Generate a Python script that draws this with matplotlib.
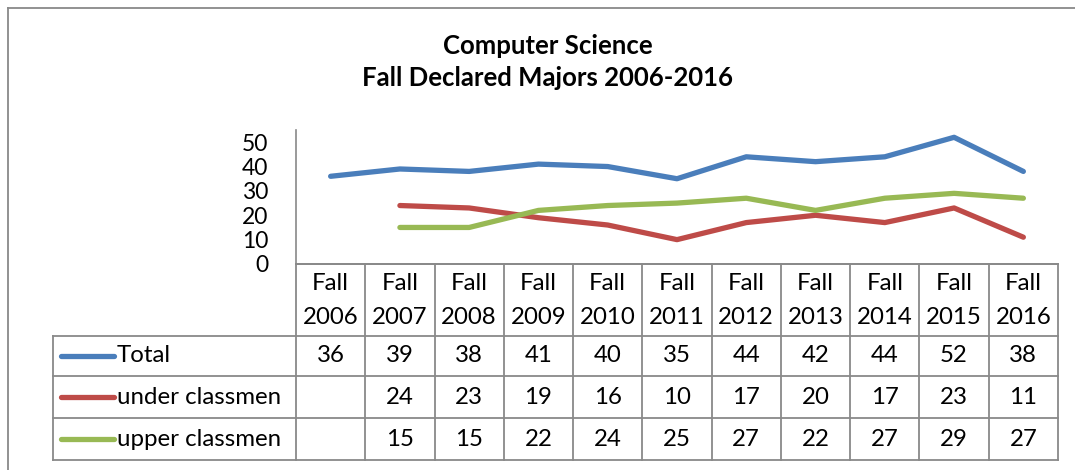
import numpy as np
import matplotlib
matplotlib.use("Agg")
import matplotlib.pyplot as plt
from matplotlib.lines import Line2D

years = ["2006", "2007", "2008", "2009", "2010", "2011", "2012", "2013", "2014", "2015", "2016"]
series_names = ["Total", "under classmen", "upper classmen"]
total = [36, 39, 38, 41, 40, 35, 44, 42, 44, 52, 38]
under = [np.nan, 24, 23, 19, 16, 10, 17, 20, 17, 23, 11]
upper = [np.nan, 15, 15, 22, 24, 25, 27, 22, 27, 29, 27]
yticks = [0, 10, 20, 30, 40, 50]
colors = ["#4A7EBB", "#BE4B48", "#98B954"]

plt.rcParams['font.family'] = ['Lato', 'DejaVu Sans']

W, H = 1075, 470
fig = plt.figure(figsize=(W / 100, H / 100), dpi=100)

def fx(px):
    return px / W

def fy(py):
    return 1 - py / H

FS = 17.3
ax_l, ax_r, ax_t, ax_b = 296, 1058, 130, 264
ax = fig.add_axes([fx(ax_l), fy(ax_b), fx(ax_r - ax_l), (ax_b - ax_t) / H])
x = np.arange(len(years))
for vals, c in zip([total, under, upper], colors):
    ax.plot(x, vals, color=c, lw=3.8, solid_capstyle='round', solid_joinstyle='round')
ax.set_xlim(-0.5, len(years) - 0.5)
ax.set_ylim(0, 55)
ax.set_yticks(yticks)
ax.set_yticklabels([str(v) for v in yticks], fontsize=16.5)
ax.tick_params(axis='y', length=0, pad=20)
ax.set_xticks([])
for s in ['top', 'right']:
    ax.spines[s].set_visible(False)
ax.spines['left'].set_color('#898989')
ax.spines['bottom'].set_color('#898989')
ax.spines['left'].set_linewidth(1.2)
ax.spines['bottom'].set_linewidth(1.2)

grid_c = '#898989'
lw = 1.3

def hline(y, x0, x1):
    fig.add_artist(Line2D([fx(x0), fx(x1)], [fy(y), fy(y)], color=grid_c, lw=lw))

def vline(xp, y0, y1):
    fig.add_artist(Line2D([fx(xp), fx(xp)], [fy(y0), fy(y1)], color=grid_c, lw=lw))

row_y = [336, 376, 418, 460]
tab_left = 53
for yy in row_y:
    hline(yy, tab_left, ax_r)
hline(ax_b, ax_l, ax_r)
vline(tab_left, row_y[0], row_y[-1])
ncol = len(years)
colw = (ax_r - ax_l) / ncol
for i in range(ncol + 1):
    vline(ax_l + i * colw, ax_b, row_y[-1])

# header
for i, yr in enumerate(years):
    cx = ax_l + (i + 0.5) * colw
    fig.text(fx(cx), fy(284), "Fall", ha='center', va='center', fontsize=FS)
    fig.text(fx(cx), fy(318), yr, ha='center', va='center', fontsize=FS)

# rows
for r, (name, vals, c) in enumerate(zip(series_names, [total, under, upper], colors)):
    cy = (row_y[r] + row_y[r + 1]) / 2
    fig.add_artist(Line2D([fx(61), fx(114)], [fy(cy), fy(cy)], color=c, lw=3.8, solid_capstyle='round'))
    fig.text(fx(117), fy(cy), name, ha='left', va='center', fontsize=FS)
    for i, v in enumerate(vals):
        if not np.isnan(v):
            cx = ax_l + (i + 0.5) * colw
            fig.text(fx(cx), fy(cy), f"{int(v)}", ha='center', va='center', fontsize=FS)

# outer chart border
fig.add_artist(Line2D([fx(8), fx(W)], [fy(8), fy(8)], color=grid_c, lw=1.3))
fig.add_artist(Line2D([fx(8), fx(8)], [fy(8), fy(H)], color=grid_c, lw=1.3))

fig.text(fx(548), fy(46), "Computer Science", ha='center', va='center', fontsize=18.5, fontweight='bold')
fig.text(fx(548), fy(78), "Fall Declared Majors 2006-2016", ha='center', va='center', fontsize=18.5, fontweight='bold')

fig.savefig("out.png", dpi=100)
